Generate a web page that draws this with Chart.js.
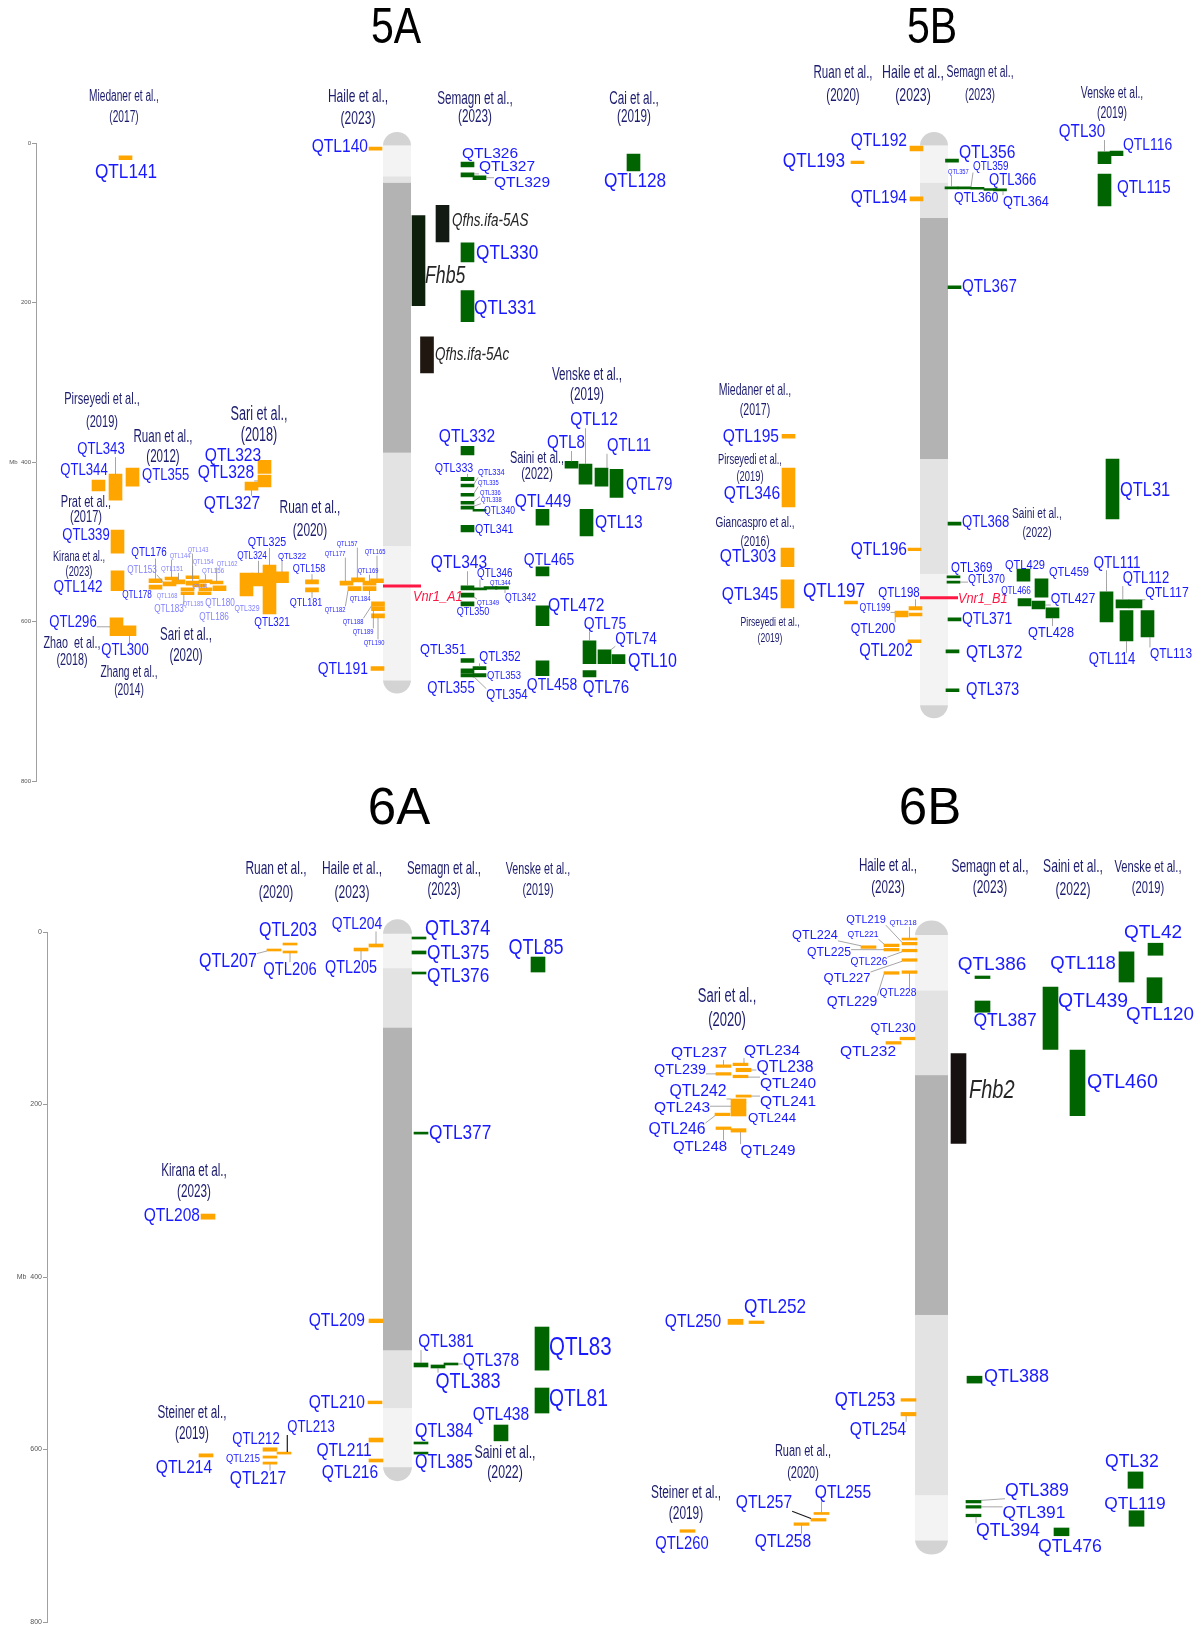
<!DOCTYPE html>
<html>
<head>
<meta charset="utf-8">
<script src="https://cdn.jsdelivr.net/npm/chart.js@4.4.1/dist/chart.umd.min.js"></script>
<style>
html, body { margin: 0; padding: 0; background: #fff; }
#wrap { position: relative; width: 1200px; height: 1629px; }
canvas { position: absolute; left: 0; }
</style>
</head>
<body>
<div id="wrap">
  <canvas id="chart_top" width="1200" height="786" style="top:0"></canvas>
  <canvas id="chart_bottom" width="1200" height="843" style="top:786px"></canvas>
</div>
<script>
// ---------- data (Mb) ----------
const yTicks = [0, 200, 400, 600, 800];

// chromosome bands: start, end, shade
const bands5A = [[3, 42, 'l'], [42, 50, 'm'], [50, 388, 'd'], [388, 505, 'm'], [505, 673, 'l']];
const bands5B = [[3, 50, 'l'], [50, 94, 'm'], [94, 396, 'd'], [396, 540, 'm'], [540, 704, 'l']];
const bands6A = [[2, 42, 'l'], [42, 111, 'm'], [111, 485, 'd'], [485, 552, 'm'], [552, 620, 'l']];
const bands6B = [[3.5, 68, 'l'], [68, 166, 'm'], [166, 444, 'd'], [444, 653, 'm'], [653, 705, 'l']];

const markers5A = [['Vnr1_A1', 555]];
const markers5B = [['Vnr1_B1', 570]];

// genes: name, start, end, track
const genes5A = [['Fhb5', 91, 204, 418.5], ['Qfhs.ifa-5AS', 78, 124, 442.5], ['Qfhs.ifa-5Ac', 243, 288, 427]];
const genes6B = [['Fhb2', 141, 245, 958.5]];

// QTL: name, start, end, track
const orange5A = [
  ['QTL141', 16, 21, 125.5], ['QTL140', 5, 9, 375.5],
  ['QTL344', 422.5, 436, 98.5], ['QTL343', 415, 447.5, 115.5], ['QTL355', 407.5, 430, 132.5],
  ['QTL339', 485, 514, 117.5], ['QTL142', 536, 561, 117.5],
  ['QTL296', 595, 617.5, 116.5], ['QTL300', 605, 617.5, 129.5],
  ['QTL323', 397.5, 414, 264.5], ['QTL328', 416, 431, 264.5], ['QTL327', 425, 435, 251.5],
  ['QTL176', 546, 551, 155.5], ['QTL178', 554, 559, 155.5], ['QTL153', 550, 555, 169.5],
  ['QTL144', 544, 547.5, 171.5], ['QTL151', 547.5, 552.5, 178.5], ['QTL143', 542.5, 546, 192.5],
  ['QTL154', 549, 554, 192.5], ['QTL168', 557.5, 561, 187.5], ['QTL161', 552.5, 556, 199.5],
  ['QTL156', 547.5, 551, 205.5], ['QTL162', 549, 552.5, 216.5], ['QTL183', 562.5, 566, 187.5],
  ['QTL185', 562.5, 566, 204.5], ['QTL180', 555, 561, 219.5], ['QTL186', 557.5, 561, 205.5],
  ['QTL329', 539, 567.5, 246.5], ['QTL324', 539, 555, 258.5], ['QTL325', 529, 550, 269.5],
  ['QTL321', 550, 590, 269.5], ['QTL322', 537.5, 551, 282],
  ['QTL158', 547.5, 552.5, 312], ['QTL181', 557.5, 562.5, 312],
  ['QTL177', 549, 554, 346.5], ['QTL157', 545, 550, 358], ['QTL182', 556, 561, 354.5],
  ['QTL169', 549, 554, 369.5], ['QTL184', 556, 561, 369.5], ['QTL165', 546, 551, 377],
  ['QTL188', 575, 580, 378], ['QTL189', 581, 586, 378], ['QTL190', 590, 595, 378],
  ['QTL191', 656, 661, 377.5]
];
const green5A = [
  ['QTL326', 24, 30, 467.5], ['QTL327', 37.5, 42.5, 467.5], ['QTL329', 41, 46, 479.5],
  ['QTL330', 125, 149, 467.5], ['QTL331', 185, 224, 467.5], ['QTL128', 14, 35, 633.5],
  ['QTL332', 380, 391, 467.5], ['QTL333', 419, 423, 467.5], ['QTL334', 427.5, 431, 467.5],
  ['QTL335', 439, 442.5, 467.5], ['QTL336', 449, 452.5, 467.5], ['QTL338', 455, 459, 467.5],
  ['QTL340', 459, 461.5, 479.5], ['QTL341', 479, 487.5, 467.5],
  ['QTL343', 555, 560, 467.5], ['QTL346', 557.5, 560, 480], ['QTL344', 556, 559, 490.5],
  ['QTL342', 556, 559, 502], ['QTL349', 564, 569, 467.5], ['QTL350', 575, 580, 467.5],
  ['QTL351', 646, 651, 467.5], ['QTL355', 659, 664, 467.5], ['QTL354', 665, 669, 467.5],
  ['QTL352', 656, 660, 479.5], ['QTL353', 665, 669, 479.5],
  ['QTL8', 399, 407.5, 571.5], ['QTL12', 402.5, 427.5, 585.5], ['QTL11', 407.5, 430, 601.5],
  ['QTL79', 409, 444, 616.5], ['QTL449', 459, 479, 542.5], ['QTL13', 459, 492.5, 586.5],
  ['QTL465', 531, 542.5, 542.5], ['QTL472', 580, 605, 542.5], ['QTL458', 649, 667.5, 542.5],
  ['QTL75', 624, 652.5, 589.5], ['QTL74', 635, 652.5, 604.5], ['QTL10', 641, 652.5, 618.5],
  ['QTL76', 661, 669, 589.5]
];
const orange5B = [
  ['QTL192', 4, 10, 916.5], ['QTL193', 22.5, 26, 857.5], ['QTL194', 67.5, 72.5, 916.5],
  ['QTL195', 365, 370, 788.5], ['QTL346', 407.5, 456, 788.5], ['QTL303', 507.5, 531, 787.5],
  ['QTL345', 547.5, 582.5, 787.5], ['QTL196', 507.5, 511, 914.5], ['QTL197', 574, 577.5, 851],
  ['QTL198', 581, 585, 915.5], ['', 589, 592.5, 915.5], ['QTL199', 586.5, 590, 901.5],
  ['QTL200', 590, 594, 901.5], ['QTL202', 622.5, 626, 914.5]
];
const green5B = [
  ['QTL356', 20, 24, 952], ['QTL357', 55, 57.5, 951.5], ['QTL359', 55, 57.5, 964.5],
  ['QTL360', 55.5, 58, 977.5], ['QTL366', 57, 59.5, 990.5], ['QTL364', 57.5, 60, 1000],
  ['QTL367', 179, 182.5, 954.5], ['QTL368', 475, 479, 954.5], ['QTL369', 542.5, 545, 953.5],
  ['QTL370', 549, 551.5, 953.5], ['QTL371', 595, 599, 954.5], ['QTL372', 635, 639, 952.5],
  ['QTL373', 684, 687.5, 952.5],
  ['QTL429', 534, 549, 1023.5], ['QTL459', 546, 569, 1041.5], ['QTL466', 571, 580, 1024.5],
  ['QTL427', 574, 584, 1038.5], ['QTL428', 582.5, 595, 1052.5],
  ['QTL30', 11, 26, 1104.5], ['QTL116', 10, 16, 1116.5], ['QTL115', 39, 79, 1104.5],
  ['QTL31', 396, 471, 1112.5], ['QTL111', 562.5, 600, 1106.5], ['QTL112', 572.5, 582.5, 1122.5],
  ['QTL117', 572.5, 582.5, 1135.5], ['QTL114', 586, 624, 1126.5], ['QTL113', 586, 619, 1147.5]
];
const orange6A = [
  ['QTL203', 12.8, 15, 290], ['QTL206', 22, 24.3, 290], ['QTL207', 19.7, 22, 274],
  ['QTL204', 13.9, 17.4, 376], ['QTL205', 18.6, 22, 361], ['QTL208', 327, 333, 208],
  ['QTL209', 448.7, 453, 376], ['QTL210', 543.8, 547, 375], ['QTL211', 586.7, 591.3, 376],
  ['QTL216', 611, 614.5, 376], ['QTL214', 605, 608.7, 206], ['QTL212', 598, 602, 270],
  ['QTL213', 603, 605, 284], ['QTL215', 607.5, 610, 270], ['QTL217', 614.5, 617, 270]
];
const green6A = [
  ['QTL374', 5.8, 8, 419], ['QTL375', 22, 25.5, 419], ['QTL376', 46.4, 48.7, 419],
  ['QTL85', 29, 46.4, 538], ['QTL377', 232, 234, 421], ['QTL381', 499.7, 504.3, 421],
  ['QTL383', 502, 505.5, 438], ['QTL378', 499.7, 502, 451], ['QTL83', 458, 508, 542],
  ['QTL81', 528.7, 557.7, 542], ['QTL438', 571.6, 590, 501], ['QTL384', 591.3, 593.6, 421],
  ['QTL385', 603, 605, 421]
];
const orange6B = [
  ['QTL218', 7, 9, 909.5], ['QTL219', 12, 15, 909.5], ['QTL221', 14, 17, 891.5],
  ['QTL224', 16, 19, 868.5], ['QTL225', 19, 22, 891.5], ['QTL226', 20, 23, 909.5],
  ['QTL227', 31, 34, 909.5], ['QTL228', 45, 48, 909.5], ['QTL229', 46, 49, 891.5],
  ['QTL230', 122, 125, 907.5], ['QTL232', 127, 130, 893.5],
  ['QTL237', 154, 157, 723.5], ['QTL239', 163, 166, 723.5], ['QTL234', 152, 155, 740.5],
  ['QTL238', 158, 162, 743.5], ['QTL240', 166, 169, 740.5], ['QTL241', 189, 191.5, 743.5],
  ['QTL242', 193.6, 198, 738.5], ['QTL243', 198, 206, 738.5], ['QTL244', 206, 213.3, 738.5],
  ['QTL246', 210, 213, 722.5], ['QTL248', 226, 229, 723.5], ['QTL249', 228, 232, 738.5],
  ['QTL250', 449, 455, 735.5], ['QTL252', 451, 454, 756.5],
  ['QTL253', 541, 544, 908.5], ['QTL254', 557, 561, 908.5],
  ['QTL255', 673, 675, 821.5], ['QTL257', 680, 683, 818.5], ['QTL258', 685, 688, 801.5],
  ['QTL260', 693, 696, 687.5]
];
const green6B = [
  ['QTL386', 51, 54, 982.5], ['QTL387', 80, 93, 982.5], ['QTL439', 64, 136, 1050.5],
  ['QTL460', 137, 213, 1077.5], ['QTL118', 23, 58, 1126.5], ['QTL42', 13, 27, 1155.5],
  ['QTL120', 53, 82, 1154.5], ['QTL388', 515, 523, 974.5], ['QTL389', 659, 662, 973.5],
  ['QTL391', 665, 668, 973.5], ['QTL394', 675, 678, 973.5], ['QTL476', 691, 700, 1061.5],
  ['QTL32', 626, 645, 1135.5], ['QTL119', 671, 689, 1136.5]
];

// ---------- layout & styles ----------
const COL = {
  orange: '#ffa500', green: '#006400', cap: '#d3d3d3',
  band: { l: '#f3f3f3', m: '#e3e3e3', d: '#b3b3b3' },
  label: '#1a1aff', pale: '#8282ff', author: '#1c1c6e', red: '#ff1744', gene: '#262626'
};
const geneColors = { 'Fhb5': '#0c200c', 'Qfhs.ifa-5AS': '#131a13', 'Qfhs.ifa-5Ac': '#201810', 'Fhb2': '#171010' };
const FONT = "'Liberation Sans', Arial, sans-serif";

// labels: text, x, y (page px), size, flags (align l/c/r, L leader, K dark leader, p pale, w unsqueezed)
const lab5A = [
  ['QTL141', 126, 172, 21, 'c'], ['QTL140', 368, 147, 19, 'r'],
  ['QTL326', 462, 154, 15.5, 'lw'], ['QTL327', 479, 167, 15.5, 'lwL'], ['QTL329', 494, 183, 15.5, 'lwL'],
  ['QTL330', 476, 253, 21, 'l'], ['QTL331', 474, 308, 21, 'l'], ['QTL128', 635, 181, 21, 'c'],
  ['QTL332', 467, 437, 19, 'c'], ['QTL333', 454, 468, 13, 'cL'], ['QTL334', 478, 473, 9, 'lL'],
  ['QTL335', 478, 483, 7, 'lL'], ['QTL336', 480, 493, 7, 'lL'], ['QTL338', 481, 500, 7, 'lL'],
  ['QTL340', 484, 511, 10.5, 'l'], ['QTL341', 475, 529, 13, 'l'],
  ['QTL343', 459, 563, 19, 'cL'], ['QTL346', 477, 574, 12, 'lL'], ['QTL344', 490, 583, 7, 'lL'],
  ['QTL342', 505, 598, 10.5, 'lL'], ['QTL349', 477, 603, 7.5, 'lL'], ['QTL350', 473, 612, 11, 'c'],
  ['QTL351', 443, 650, 15.5, 'cL'], ['QTL352', 500, 657, 14, 'cL'], ['QTL353', 487, 676, 11.5, 'lL'],
  ['QTL354', 507, 695, 14, 'cL'], ['QTL355', 451, 689, 16, 'c'],
  ['QTL8', 566, 443, 18.5, 'cL'], ['QTL12', 594, 420, 19, 'cL'], ['QTL11', 629, 446, 18, 'cL'],
  ['QTL79', 626, 485, 18.5, 'l'], ['QTL449', 543, 502, 19, 'c'], ['QTL13', 595, 523, 19, 'l'],
  ['QTL465', 549, 560, 17, 'c'], ['QTL472', 548, 606, 19, 'l'], ['QTL458', 552, 685, 17, 'c'],
  ['QTL75', 605, 624, 17, 'cL'], ['QTL74', 636, 639, 16.5, 'cL'], ['QTL10', 628, 662, 19.5, 'l'],
  ['QTL76', 606, 688, 18.5, 'c'],
  ['QTL343', 101, 450, 16, 'cL'], ['QTL344', 84, 471, 16, 'c'], ['QTL355', 142, 476, 16, 'l'],
  ['QTL339', 86, 536, 16, 'cL'], ['QTL142', 78, 587, 16.5, 'c'], ['QTL296', 73, 623, 16, 'cL'],
  ['QTL300', 125, 651, 16, 'cL'], ['QTL323', 233, 456, 19, 'cL'], ['QTL328', 226, 473, 19, 'cL'],
  ['QTL327', 232, 504, 19, 'cL'],
  ['QTL176', 149, 553, 12, 'cL'], ['QTL144', 180, 556, 7, 'cpL'], ['QTL143', 198, 550, 7, 'cpL'],
  ['QTL154', 203, 562, 7, 'cpL'], ['QTL153', 142, 570, 10, 'cpL'], ['QTL151', 172, 569, 7.5, 'cpL'],
  ['QTL162', 227, 564, 7, 'cpL'], ['QTL156', 213, 571, 7.5, 'cpL'], ['QTL178', 137, 595, 10, 'c'],
  ['QTL168', 167, 596, 7, 'cp'], ['QTL161', 200, 587, 5, 'cp'], ['QTL183', 169, 609, 10, 'cpL'],
  ['QTL185', 193, 604, 7, 'cp'], ['QTL180', 220, 603, 10, 'cp'], ['QTL186', 214, 617, 10, 'cp'],
  ['QTL325', 267, 542, 13, 'cL'], ['QTL324', 252, 556, 10, 'cL'], ['QTL322', 292, 556, 9.5, 'cL'],
  ['QTL329', 247, 609, 8.5, 'cp'], ['QTL321', 272, 623, 12, 'c'],
  ['QTL158', 309, 569, 11, 'cL'], ['QTL181', 306, 603, 11, 'cL'],
  ['QTL177', 335, 554, 7, 'cL'], ['QTL157', 347, 544, 7, 'cL'], ['QTL165', 375, 552, 7, 'cL'],
  ['QTL169', 368, 571, 7, 'cL'], ['QTL182', 335, 610, 7, 'cL'], ['QTL184', 360, 599, 7, 'cL'],
  ['QTL188', 353, 622, 7, 'cL'], ['QTL189', 363, 632, 7, 'cL'], ['QTL190', 374, 643, 7, 'cL'],
  ['QTL191', 368, 669, 17, 'r']
];
const lab5B = [
  ['QTL192', 907, 141, 19, 'r'], ['QTL193', 845, 161, 21, 'r'], ['QTL194', 907, 198, 19, 'r'],
  ['QTL195', 779, 437, 19, 'r'], ['QTL346', 752, 494, 19, 'c'], ['QTL303', 748, 557, 19, 'c'],
  ['QTL345', 750, 595, 19, 'c'], ['QTL196', 907, 550, 19, 'r'], ['QTL197', 834, 591, 21, 'c'],
  ['QTL198', 899, 593, 14, 'cL'], ['QTL199', 875, 608, 10.5, 'cL'], ['QTL200', 873, 629, 15, 'cL'],
  ['QTL202', 886, 651, 18, 'c'],
  ['QTL356', 959, 153, 19, 'l'], ['QTL357', 948, 172, 7, 'lL'], ['QTL359', 973, 167, 12, 'lL'],
  ['QTL366', 989, 181, 16, 'l'], ['QTL360', 954, 198, 15, 'l'], ['QTL364', 1003, 202, 15.5, 'lL'],
  ['QTL367', 962, 287, 18.5, 'l'], ['QTL368', 962, 523, 16, 'l'], ['QTL369', 951, 568, 14, 'l'],
  ['QTL370', 968, 580, 12.5, 'lL'], ['QTL371', 962, 619, 17, 'l'], ['QTL372', 966, 653, 19, 'l'],
  ['QTL373', 966, 690, 18, 'l'],
  ['QTL429', 1025, 565, 13.5, 'c'], ['QTL459', 1069, 572, 13.5, 'cL'], ['QTL466', 1016, 591, 10, 'c'],
  ['QTL427', 1073, 599, 15, 'cL'], ['QTL428', 1051, 633, 15.5, 'cL'],
  ['QTL30', 1082, 132, 18.5, 'cL'], ['QTL116', 1123, 145, 17, 'l'], ['QTL115', 1117, 188, 18.5, 'l'],
  ['QTL31', 1120, 490, 20, 'l'], ['QTL111', 1117, 563, 16.5, 'cL'], ['QTL112', 1146, 579, 16, 'cL'],
  ['QTL117', 1167, 593, 15, 'cL'], ['QTL114', 1112, 660, 16, 'cL'], ['QTL113', 1171, 654, 14.5, 'cL']
];
const lab6A = [
  ['QTL203', 288, 931, 19.5, 'c'], ['QTL207', 228, 962, 19.5, 'cL'], ['QTL206', 290, 970, 18, 'cL'],
  ['QTL204', 357, 924, 17, 'cL'], ['QTL205', 351, 968, 17.5, 'cL'],
  ['QTL374', 425, 929, 22, 'l'], ['QTL375', 427, 953, 21, 'l'], ['QTL376', 427, 976, 21, 'l'],
  ['QTL85', 536, 948, 22, 'c'], ['QTL377', 429, 1133, 21, 'l'], ['QTL208', 200, 1216, 19, 'r'],
  ['QTL209', 365, 1321, 19, 'r'], ['QTL381', 446, 1342, 18.7, 'cL'], ['QTL378', 491, 1361, 19, 'cL'],
  ['QTL383', 468, 1382, 22, 'cL'], ['QTL83', 549, 1348, 25, 'l'], ['QTL81', 549, 1400, 23.5, 'l'],
  ['QTL210', 365, 1403, 19, 'r'], ['QTL438', 501, 1415, 19, 'c'], ['QTL384', 444, 1432, 19.5, 'c'],
  ['QTL385', 444, 1463, 19.5, 'c'], ['QTL211', 344, 1451, 19, 'c'], ['QTL216', 350, 1473, 19, 'c'],
  ['QTL214', 184, 1468, 19, 'c'], ['QTL212', 256, 1440, 16, 'c'], ['QTL213', 311, 1428, 16, 'cLK'],
  ['QTL215', 243, 1459, 11.5, 'c'], ['QTL217', 258, 1479, 19, 'cL']
];
const lab6B = [
  ['QTL218', 903, 923, 7.5, 'cwL'], ['QTL219', 866, 920, 11, 'cwL'], ['QTL221', 863, 935, 8.6, 'cwL'],
  ['QTL224', 815, 935, 12.7, 'cwL'], ['QTL225', 829, 953, 12.2, 'cwL'], ['QTL226', 869, 962, 10.2, 'cwL'],
  ['QTL227', 847, 978, 13, 'cwL'], ['QTL228', 898, 993, 10.2, 'cwL'], ['QTL229', 852, 1002, 14, 'cwL'],
  ['QTL230', 893, 1029, 12.5, 'cw'], ['QTL232', 868, 1052, 15.5, 'cw'],
  ['QTL237', 699, 1053, 15.5, 'cwL'], ['QTL239', 680, 1070, 14.4, 'cwL'], ['QTL234', 772, 1051, 15.5, 'cwL'],
  ['QTL238', 785, 1068, 15.8, 'cwL'], ['QTL240', 788, 1084, 15.5, 'cwL'], ['QTL242', 698, 1092, 15.8, 'cwL'],
  ['QTL241', 788, 1102, 15.5, 'cwL'], ['QTL243', 682, 1108, 15.5, 'cwL'], ['QTL244', 772, 1118, 13.3, 'cw'],
  ['QTL246', 677, 1130, 15.8, 'cwL'], ['QTL248', 700, 1147, 15, 'cwL'], ['QTL249', 768, 1151, 15.2, 'cwL'],
  ['QTL386', 992, 965, 19, 'cw'], ['QTL387', 1005, 1021, 17.5, 'cw'], ['QTL439', 1058, 1002, 19.4, 'lw'],
  ['QTL460', 1087, 1083, 19.6, 'lw'], ['QTL118', 1083, 964, 18.5, 'cw'], ['QTL42', 1153, 933, 19, 'cw'],
  ['QTL120', 1160, 1015, 18.8, 'cw'],
  ['QTL250', 693, 1322, 19, 'c'], ['QTL252', 775, 1307, 21, 'c'], ['QTL388', 984, 1377, 18, 'lw'],
  ['QTL253', 865, 1400, 20.5, 'c'], ['QTL254', 878, 1430, 19, 'cL'], ['QTL255', 843, 1493, 19, 'cL'],
  ['QTL257', 764, 1503, 19, 'cLK'], ['QTL258', 783, 1542, 19, 'cL'], ['QTL260', 682, 1544, 18, 'c'],
  ['QTL389', 1037, 1491, 17.7, 'cwL'], ['QTL391', 1034, 1513, 17.4, 'cwL'], ['QTL394', 1008, 1531, 17.7, 'cwL'],
  ['QTL476', 1070, 1547, 17.7, 'cw'], ['QTL32', 1132, 1462, 17.6, 'cw'], ['QTL119', 1135, 1504, 17.4, 'cw']
];

// authors: line1, line2, x, y1, y2, size
const authTop = [
  ['Miedaner et al.,', '(2017)', 124, 97, 118, 15.6], ['Haile et al.,', '(2023)', 358, 97, 119, 18.5],
  ['Semagn et al.,', '(2023)', 475, 99, 117, 18], ['Cai et al.,', '(2019)', 634, 99, 117, 18],
  ['Venske et al.,', '(2019)', 587, 375, 395, 18], ['Pirseyedi et al.,', '(2019)', 102, 399, 422, 17],
  ['Ruan et al.,', '(2012)', 163, 437, 457, 17.8], ['Sari et al.,', '(2018)', 259, 415, 436, 19.5],
  ['Prat et al.,', '(2017)', 86, 502, 517, 17], ['Kirana et al.,', '(2023)', 79, 557, 572, 14.3],
  ['Ruan et al.,', '(2020)', 310, 508, 531, 18.3], ['Zhao  et al.,', '(2018)', 72, 643, 660, 16.6],
  ['Zhang et al.,', '(2014)', 129, 673, 691, 15.8], ['Sari et al.,', '(2020)', 186, 635, 656, 17.7],
  ['Saini et al.,', '(2022)', 537, 458, 474, 16.8],
  ['Ruan et al.,', '(2020)', 843, 73, 96, 17.8], ['Haile et al.,', '(2023)', 913, 73, 96, 19],
  ['Semagn et al.,', '(2023)', 980, 73, 96, 16], ['Venske et al.,', '(2019)', 1112, 94, 114, 16],
  ['Miedaner et al.,', '(2017)', 755, 391, 411, 16.2], ['Pirseyedi et al.,', '(2019)', 750, 460, 477, 14.4],
  ['Giancaspro et al.,', '(2016)', 755, 523, 542, 15.5], ['Pirseyedi et al.,', '(2019)', 770, 622, 638, 13.3],
  ['Saini et al.,', '(2022)', 1037, 514, 533, 15.5]
];
const authBottom = [
  ['Ruan et al.,', '(2020)', 276, 869, 893, 18.4], ['Haile et al.,', '(2023)', 352, 869, 893, 18.5],
  ['Semagn et al.,', '(2023)', 444, 869, 890, 17.7], ['Venske et al.,', '(2019)', 538, 869, 890, 16.5],
  ['Kirana et al.,', '(2023)', 194, 1171, 1192, 18], ['Steiner et al.,', '(2019)', 192, 1413, 1434, 18],
  ['Saini et al.,', '(2022)', 505, 1453, 1473, 19],
  ['Haile et al.,', '(2023)', 888, 866, 888, 17.9], ['Semagn et al.,', '(2023)', 990, 867, 888, 18.4],
  ['Saini et al.,', '(2022)', 1073, 867, 890, 18.6], ['Venske et al.,', '(2019)', 1148, 867, 888, 17.2],
  ['Sari et al.,', '(2020)', 727, 996, 1020, 20], ['Ruan et al.,', '(2020)', 803, 1451, 1473, 16.9],
  ['Steiner et al.,', '(2019)', 686, 1493, 1514, 18.3]
];

const layoutTop = {
  top: 0, padTop: 143, padBottom: 3, axisX: 36, tickSize: 6,
  titleSize: 50, titleSx: 0.82,
  chroms: [
    { bands: bands5A, left: 383, width: 28, cap: 14, title: '5A', tx: 396, ty: 29, markers: markers5A },
    { bands: bands5B, left: 920, width: 28, cap: 14, title: '5B', tx: 932, ty: 29, markers: markers5B }
  ],
  markerLabels: { 'Vnr1_A1': [413, 597], 'Vnr1_B1': [958, 599] },
  bars: [
    { rows: genes5A, w: 13, gene: true },
    { rows: orange5A, w: 13, color: COL.orange }, { rows: green5A, w: 13, color: COL.green },
    { rows: orange5B, w: 13, color: COL.orange }, { rows: green5B, w: 13, color: COL.green }
  ],
  geneLabels: [['Fhb5', 425, 277, 23], ['Qfhs.ifa-5AS', 452, 221, 17.5], ['Qfhs.ifa-5Ac', 435, 355, 17.5]],
  labels: lab5A.concat(lab5B),
  authors: authTop
};
const layoutBottom = {
  top: 786, padTop: 146, padBottom: 7, axisX: 47, tickSize: 7,
  titleSize: 51, titleSx: 1.0,
  chroms: [
    { bands: bands6A, left: 383, width: 29, cap: 15, title: '6A', tx: 399, ty: 810, markers: [] },
    { bands: bands6B, left: 915, width: 33, cap: 15, title: '6B', tx: 930, ty: 810, markers: [] }
  ],
  markerLabels: {},
  bars: [
    { rows: genes6B, w: 15, gene: true },
    { rows: orange6A, w: 14, color: COL.orange }, { rows: green6A, w: 14, color: COL.green },
    { rows: orange6B, w: 15, color: COL.orange }, { rows: green6B, w: 15, color: COL.green }
  ],
  geneLabels: [['Fhb2', 969, 1091, 26]],
  labels: lab6A.concat(lab6B),
  authors: authBottom
};

// ---------- drawing helpers ----------
function drawText(ctx, text, x, y, size, align, sx, color, style) {
  ctx.save();
  ctx.translate(x, y);
  ctx.scale(sx, 1);
  ctx.font = (style ? style + ' ' : '') + size + 'px ' + FONT;
  ctx.textAlign = align;
  ctx.textBaseline = 'middle';
  ctx.fillStyle = color;
  ctx.fillText(text, 0, 0);
  ctx.restore();
}

const clamp = (v, a, b) => Math.max(a, Math.min(b, v));

function mapPlugin(L) {
  return {
    id: 'chromosomeMap',
    beforeDatasetsDraw(chart) {
      const { ctx, scales: { x, y } } = chart;
      ctx.save();
      L.chroms.forEach(c => {
        const x0 = x.getPixelForValue(c.left), x1 = x.getPixelForValue(c.left + c.width);
        const yt = y.getPixelForValue(c.bands[0][0]);
        const yb = y.getPixelForValue(c.bands[c.bands.length - 1][1]);
        const cx = (x0 + x1) / 2, r = (x1 - x0) / 2;
        ctx.fillStyle = COL.cap;
        ctx.beginPath(); ctx.ellipse(cx, yt + 0.5, r, c.cap, 0, Math.PI, 2 * Math.PI); ctx.fill();
        ctx.beginPath(); ctx.ellipse(cx, yb - 0.5, r, c.cap, 0, 0, Math.PI); ctx.fill();
        c.bands.forEach(b => {
          const a = y.getPixelForValue(b[0]), e = y.getPixelForValue(b[1]);
          ctx.fillStyle = COL.band[b[2]];
          ctx.fillRect(x0, a, x1 - x0, e - a + 0.5);
        });
      });
      ctx.restore();
    },
    afterDatasetsDraw(chart) {
      const { ctx, scales: { x, y } } = chart;
      const off = L.top;
      ctx.save();

      // marker lines (Vnr1)
      L.chroms.forEach(c => {
        c.markers.forEach(([name, mb]) => {
          const yy = y.getPixelForValue(mb);
          ctx.strokeStyle = COL.red; ctx.lineWidth = 3;
          ctx.beginPath();
          ctx.moveTo(x.getPixelForValue(c.left), yy);
          ctx.lineTo(x.getPixelForValue(c.left + c.width + 10), yy);
          ctx.stroke();
          const p = L.markerLabels[name];
          drawText(ctx, name, p[0], p[1] - off, 15, 'left', 0.85, COL.red, 'italic');
        });
      });

      // rectangles of the bars, for leader lines
      const rects = [];
      L.bars.forEach(g => g.rows.forEach(r => {
        const cx = x.getPixelForValue(r[3]);
        let y0 = y.getPixelForValue(r[1]), y1 = y.getPixelForValue(r[2]);
        if (y1 - y0 < 2) { const m = (y0 + y1) / 2; y0 = m - 1; y1 = m + 1; }
        rects.push({ name: r[0], x0: cx - g.w / 2, x1: cx + g.w / 2, y0, y1 });
      }));

      const boxes = L.labels.map(([t, px, py, size, f]) => {
        const align = { l: 'left', c: 'center', r: 'right' }[f[0]];
        const sx = f.includes('w') ? 1 : 0.82;
        ctx.font = size + 'px ' + FONT;
        const w = ctx.measureText(t).width * sx;
        const lx0 = align === 'left' ? px : align === 'right' ? px - w : px - w / 2;
        const yy = py - off;
        return { t, px, yy, size, f, align, sx, lx0, lx1: lx0 + w, ly0: yy - size * 0.38, ly1: yy + size * 0.38 };
      });

      // leader lines
      boxes.forEach(b => {
        if (!b.f.includes('L')) return;
        const cand = rects.filter(r => r.name === b.t);
        if (!cand.length) return;
        const lcx = (b.lx0 + b.lx1) / 2, lcy = b.yy;
        let best = cand[0], bd = Infinity;
        cand.forEach(r => {
          const d = Math.hypot((r.x0 + r.x1) / 2 - lcx, (r.y0 + r.y1) / 2 - lcy);
          if (d < bd) { bd = d; best = r; }
        });
        const bcx = (best.x0 + best.x1) / 2, bcy = (best.y0 + best.y1) / 2;
        const sx0 = clamp(bcx, b.lx0, b.lx1), sy0 = clamp(bcy, b.ly0 - 1, b.ly1 + 1);
        const ex = clamp(sx0, best.x0, best.x1), ey = clamp(sy0, best.y0, best.y1);
        if (Math.hypot(ex - sx0, ey - sy0) < 2) return;
        ctx.strokeStyle = b.f.includes('K') ? '#1a1a1a' : '#8f8f8f';
        ctx.lineWidth = b.f.includes('K') ? 1.2 : 0.8;
        ctx.beginPath(); ctx.moveTo(sx0, sy0); ctx.lineTo(ex, ey); ctx.stroke();
      });

      // QTL labels
      boxes.forEach(b => {
        drawText(ctx, b.t, b.px, b.yy, b.size, b.align, b.sx, b.f.includes('p') ? COL.pale : COL.label);
      });

      // gene labels
      L.geneLabels.forEach(([t, px, py, size]) => {
        drawText(ctx, t, px, py - off, size, 'left', 0.77, COL.gene, 'italic');
      });

      // study labels
      L.authors.forEach(([l1, l2, px, y1, y2, size]) => {
        drawText(ctx, l1, px, y1 - off, size, 'center', 0.65, COL.author);
        drawText(ctx, l2, px, y2 - off, size, 'center', 0.65, COL.author);
      });

      // chromosome titles
      L.chroms.forEach(c => {
        drawText(ctx, c.title, c.tx, c.ty - off, L.titleSize, 'center', L.titleSx, '#000');
      });
      ctx.restore();
    }
  };
}

function makeChart(id, L) {
  const datasets = L.bars.map(g => ({
    type: 'bar',
    data: g.rows.map(r => ({ x: r[3], y: [r[1], r[2]] })),
    backgroundColor: g.gene ? g.rows.map(r => geneColors[r[0]]) : g.color,
    barThickness: g.w,
    minBarLength: 2,
    borderWidth: 0,
    stack: 'all'
  }));
  return new Chart(document.getElementById(id), {
    type: 'bar',
    data: { datasets },
    options: {
      responsive: false,
      animation: false,
      devicePixelRatio: 1,
      events: [],
      layout: { padding: { top: L.padTop, bottom: L.padBottom, left: 0, right: 0 } },
      plugins: { legend: { display: false }, tooltip: { enabled: false } },
      scales: {
        x: { type: 'linear', display: false, min: L.axisX, max: 1200, offset: false },
        y: {
          type: 'linear', reverse: true, min: 0, max: 800, stacked: false,
          afterFit: s => { s.width = L.axisX; },
          afterBuildTicks: s => { s.ticks = yTicks.map(v => ({ value: v })); },
          ticks: {
            font: { size: L.tickSize, family: 'Liberation Sans' }, color: '#555', padding: 1,
            callback: v => (v === 400 ? 'Mb  400' : String(v))
          },
          grid: { drawOnChartArea: false, drawTicks: true, tickLength: 4, color: '#9a9a9a' },
          border: { display: true, color: '#a0a0a0' }
        }
      }
    },
    plugins: [mapPlugin(L)]
  });
}

makeChart('chart_top', layoutTop);
makeChart('chart_bottom', layoutBottom);
</script>
</body>
</html>
